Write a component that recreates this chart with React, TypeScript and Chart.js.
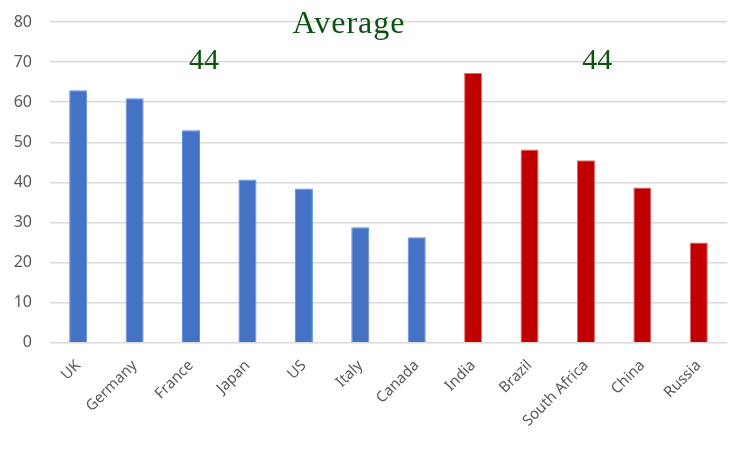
import { useEffect, useRef } from "react";
import { Chart, registerables } from "chart.js";

Chart.register(...registerables);

// G7 group (blue) and emerging group (red)
const groupOneNames = ["UK", "Germany", "France", "Japan", "US", "Italy", "Canada"];
const groupOneValues = [63, 61, 53, 40.7, 38.5, 28.8, 26.3];
const groupTwoNames = ["India", "Brazil", "South Africa", "China", "Russia"];
const groupTwoValues = [67.3, 48.2, 45.5, 38.7, 25];
const groupAverages = ["44", "44"];
const titleText = "Average";
const yTicks = [0, 10, 20, 30, 40, 50, 60, 70, 80];

const BLUE = "#4472c4";
const RED = "#c00000";
const GREEN = "#0b520f";

const labels = [...groupOneNames, ...groupTwoNames];
const values = [...groupOneValues, ...groupTwoValues];
const colors = [...groupOneNames.map(() => BLUE), ...groupTwoNames.map(() => RED)];
const borders = [...groupOneNames.map(() => "#5b8bdc"), ...groupTwoNames.map(() => "#e06a6a")];

// draws the "Average" heading and the two group averages
const averageText = {
  id: "averageText",
  afterDatasetsDraw(chart: any) {
    const { ctx, scales } = chart;
    const x = scales.x;
    const y = scales.y;
    ctx.save();
    ctx.fillStyle = GREEN;
    ctx.textAlign = "center";
    ctx.textBaseline = "alphabetic";
    ctx.font = "32px 'Liberation Serif', serif";
    ctx.letterSpacing = "1px";
    ctx.fillText(titleText, x.getPixelForValue(4.8), y.getPixelForValue(77.3));
    ctx.letterSpacing = "0px";
    ctx.font = "30px 'Liberation Serif', serif";
    ctx.fillText(groupAverages[0], x.getPixelForValue(2.23), y.getPixelForValue(68.2));
    ctx.fillText(groupAverages[1], x.getPixelForValue(9.2), y.getPixelForValue(68.2));
    ctx.restore();
  },
};

const BarChart = () => {
  const chartRef = useRef<HTMLCanvasElement | null>(null);

  useEffect(() => {
    if (!chartRef.current) return;
    const chart = new Chart(chartRef.current, {
      type: "bar",
      data: {
        labels,
        datasets: [
          {
            data: values,
            backgroundColor: colors,
            borderColor: borders,
            borderWidth: 1,
            barPercentage: 0.64,
            categoryPercentage: 0.5,
          },
        ],
      },
      options: {
        animation: false,
        responsive: true,
        maintainAspectRatio: false,
        layout: { padding: { top: 22, right: 23, left: 13, bottom: 14 } },
        plugins: {
          legend: { display: false },
          tooltip: { enabled: false },
        },
        scales: {
          x: {
            grid: { display: false },
            border: { display: false },
            afterFit: (scale: any) => {
              scale.paddingLeft = 0;
              scale.paddingRight = 0;
            },
            ticks: {
              color: "#595959",
              font: { family: "'Noto Sans'", size: 15 },
              maxRotation: 45,
              minRotation: 45,
              padding: 6,
            },
          },
          y: {
            min: 0,
            max: 80,
            afterBuildTicks: (axis: any) => {
              axis.ticks = yTicks.map((v) => ({ value: v }));
            },
            afterFit: (scale: any) => {
              // fixed axis width, no extra room above the top tick
              scale.width = 37;
              scale.paddingTop = 0;
              scale.paddingBottom = 0;
            },
            grid: { color: "#d9d9d9", lineWidth: 1.5, drawTicks: false },
            border: { display: false },
            ticks: {
              color: "#595959",
              font: { family: "'Noto Sans'", size: 16 },
              padding: 18,
            },
          },
        },
      },
      plugins: [averageText],
    });

    return () => {
      chart.destroy();
    };
  }, []);

  return <canvas ref={chartRef}></canvas>;
};

export default function App() {
  return (
    <div style={{ position: "fixed", left: 0, top: 0, width: 750, height: 450, background: "#fff" }}>
      <BarChart />
    </div>
  );
}
